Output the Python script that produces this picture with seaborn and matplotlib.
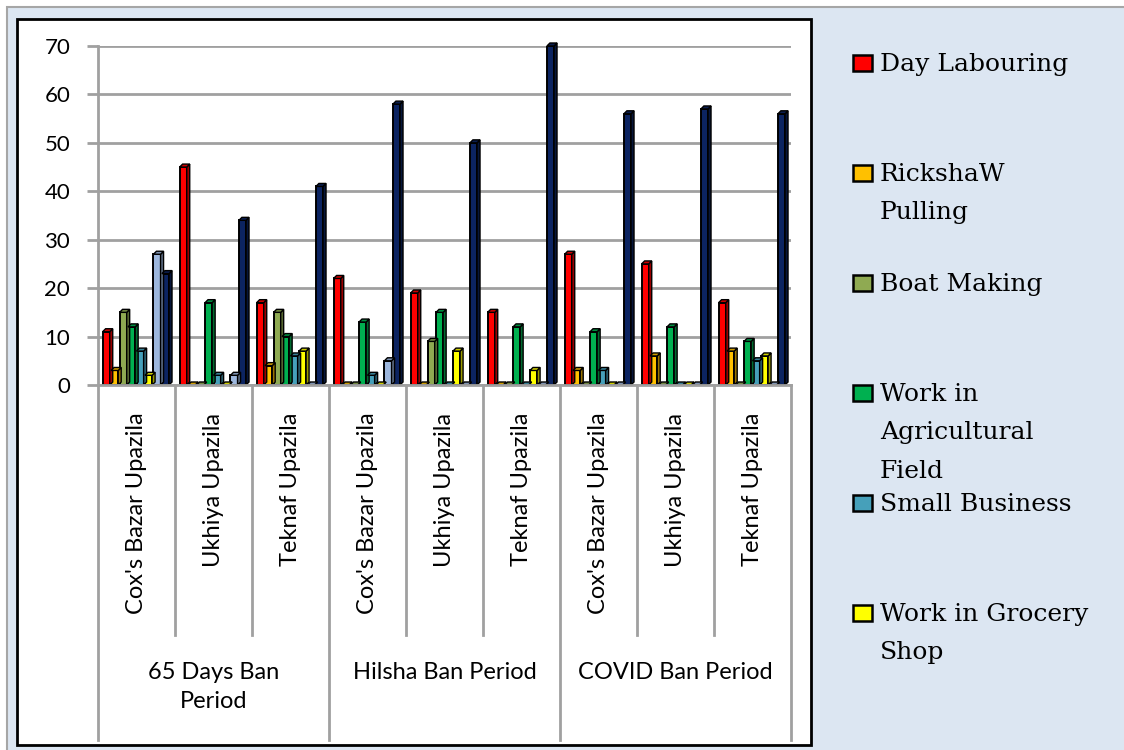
import numpy as np
import pandas as pd
import matplotlib
matplotlib.use("Agg")
import matplotlib.pyplot as plt
import seaborn as sns
from matplotlib.patches import Rectangle, Polygon
from matplotlib.lines import Line2D
from matplotlib.transforms import blended_transform_factory
from matplotlib.colors import to_rgb

# ---------------- data ----------------
periods = ["65 Days Ban\nPeriod", "Hilsha Ban Period", "COVID Ban Period"]
districts = ["Cox's Bazar Upazila", "Ukhiya Upazila", "Teknaf Upazila"]
series = ["Day Labouring", "RickshaW Pulling", "Boat Making",
          "Work in Agricultural Field", "Small Business",
          "Work in Grocery Shop", "Others", "Unemployed"]
legend_labels = ["Day Labouring", "RickshaW\nPulling", "Boat Making",
                 "Work in\nAgricultural\nField", "Small Business",
                 "Work in Grocery\nShop"]
day_labouring = [11, 45, 17, 22, 19, 15, 27, 25, 17]
rickshaw      = [3, 0, 4, 0, 0, 0, 3, 6, 7]
boat_making   = [15, 0, 15, 0, 9, 0, 0, 0, 0]
agriculture   = [12, 17, 10, 13, 15, 12, 11, 12, 9]
small_business = [7, 2, 6, 2, 0, 0, 3, 0, 5]
grocery       = [2, 0, 7, 0, 7, 3, 0, 0, 6]
others        = [27, 2, 0, 5, 0, 0, 0, 0, 0]
unemployed    = [23, 34, 41, 58, 50, 70, 56, 57, 56]
colors = ["#ff0000", "#ffc000", "#8faa52", "#00b050", "#46a0ba",
          "#ffff00", "#9db7dd", "#0c2461"]

values = [day_labouring, rickshaw, boat_making, agriculture,
          small_business, grocery, others, unemployed]
group_ids = [f"{p}|{d}" for p in periods for d in districts]
rows = []
for s, vals in zip(series, values):
    for g, v in zip(group_ids, vals):
        rows.append({"group": g, "series": s, "value": v})
df = pd.DataFrame(rows)

# ---------------- figure ----------------
W, H = 1124, 750
fig = plt.figure(figsize=(W / 100, H / 100), dpi=100)
fig.patch.set_facecolor("white")

def fx(x):
    return x / W

def fy(y):
    return 1 - y / H

fig.add_artist(Rectangle((fx(7), fy(770)), fx(1140) - fx(7), fy(7) - fy(770),
                         transform=fig.transFigure, fc="#dce6f2",
                         ec="#a6a6a6", lw=1.5, zorder=-5))
fig.add_artist(Rectangle((fx(17), fy(745)), fx(811) - fx(17), fy(19) - fy(745),
                         transform=fig.transFigure, fc="white",
                         ec="black", lw=2, zorder=-4))

ax = fig.add_axes([fx(98), fy(385), fx(791) - fx(98), fy(46) - fy(385)])
ax.patch.set_alpha(0)

sns.barplot(data=df, x="group", y="value", hue="series", order=group_ids,
            hue_order=series, palette=colors, width=0.88, gap=0.0,
            edgecolor="black", linewidth=1.4, errorbar=None, legend=False,
            ax=ax, saturation=1)

sans = ["Lato", "DejaVu Sans"]
ax.set_ylim(0, 70)
ax.set_xlim(-0.5, 8.5)

# 3-D style side and top faces derived from the drawn bars
depth_px = 3.0
dx = depth_px / ((791 - 98) / 9)
dy = depth_px / ((385 - 46) / 70)
bars = list(ax.patches)
for b in bars:
    x, w, h = b.get_x(), b.get_width(), b.get_height()
    fc = np.array(to_rgb(b.get_facecolor()))
    w_front = w * 0.84
    b.set_width(w_front)
    xr = x + w_front
    side = Polygon([(xr, 0), (xr + dx, dy), (xr + dx, h + dy), (xr, h)],
                   closed=True, fc=fc * 0.6, ec="black", lw=1.0,
                   clip_on=False, zorder=b.get_zorder())
    top = Polygon([(x, h), (x + dx, h + dy), (xr + dx, h + dy), (xr, h)],
                  closed=True, fc=fc * 0.8, ec="black", lw=1.0,
                  clip_on=False, zorder=b.get_zorder())
    ax.add_patch(side)
    ax.add_patch(top)

ax.set_yticks(range(0, 80, 10))
ax.set_yticklabels([str(v) for v in range(0, 80, 10)], fontsize=16,
                   family=sans)
ax.yaxis.grid(True, color="#a0a0a0", lw=2)
ax.set_axisbelow(True)
for s in ["top", "right"]:
    ax.spines[s].set_visible(False)
for s in ["left", "bottom"]:
    ax.spines[s].set_color("#a0a0a0")
    ax.spines[s].set_linewidth(2)
ax.tick_params(axis="y", length=8, width=2, color="#a0a0a0", pad=12)
ax.tick_params(axis="x", length=0, pad=20)
ax.set_xticks(range(9))
ax.set_xticklabels([g.split("|")[1] for g in group_ids], rotation=90,
                   fontsize=17, family=sans)
ax.set_xlabel("")
ax.set_ylabel("")

trans = blended_transform_factory(ax.transData, ax.transAxes)
axh = 385 - 46
for k in range(10):
    bottom = 740 if k % 3 == 0 else 635
    ax.add_line(Line2D([k - 0.5, k - 0.5], [0, -(bottom - 385) / axh],
                       transform=trans, color="#a0a0a0", lw=2,
                       clip_on=False))
for i, p in enumerate(periods):
    ax.text(3 * i + 1, -(662 - 385) / axh, p, transform=trans, ha="center",
            va="top", fontsize=17, family=sans, linespacing=1.45,
            multialignment="center")

# ---------------- legend ----------------
rows_y = [63, 173, 283, 393, 503, 613]
for lab, col, yy in zip(legend_labels, colors, rows_y):
    fig.add_artist(Rectangle((fx(853), fy(yy + 8)), fx(872) - fx(853),
                             fy(yy - 8) - fy(yy + 8),
                             transform=fig.transFigure, fc=col, ec="black",
                             lw=1.8))
    fig.text(fx(880), fy(yy - 10), lab, ha="left", va="top",
             fontsize=18, family=["DejaVu Serif"], linespacing=1.85)

fig.savefig("out.png", dpi=100)
